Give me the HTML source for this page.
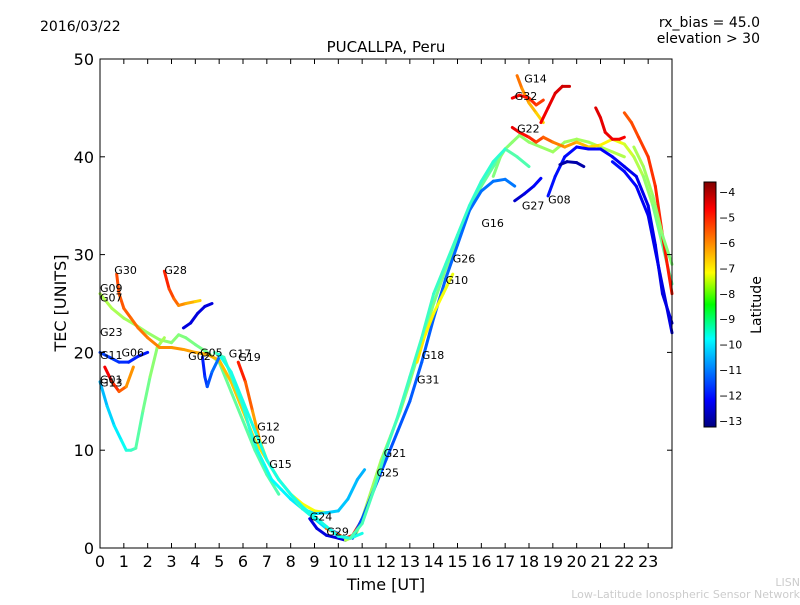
<!DOCTYPE html>
<html><head><meta charset="utf-8"><style>
body{margin:0;background:#fff;}
svg{font-family:"DejaVu Sans","Liberation Sans",sans-serif;}
</style></head><body>
<svg id="chart" width="800" height="600" viewBox="0 0 800 600">
<defs><linearGradient id="jet" x1="0" y1="1" x2="0" y2="0">
<stop offset="0" stop-color="#00007f"/><stop offset="0.11" stop-color="#0000ff"/><stop offset="0.36" stop-color="#00ffff"/>
<stop offset="0.5" stop-color="#00ff00" /><stop offset="0.63" stop-color="#ffff00"/><stop offset="0.89" stop-color="#ff0000"/><stop offset="1" stop-color="#7f0000"/></linearGradient></defs>
<text x="40" y="31" font-size="14">2016/03/22</text>
<text x="760" y="27" font-size="14" text-anchor="end">rx_bias = 45.0</text>
<text x="760" y="43" font-size="14" text-anchor="end">elevation &gt; 30</text>
<text x="386" y="52" font-size="15" text-anchor="middle">PUCALLPA, Peru</text>
<g id="marks"></g>
<g id="axes"></g>
<text x="386" y="590" font-size="16" text-anchor="middle">Time [UT]</text>
<text x="0" y="0" font-size="16" text-anchor="middle" transform="translate(66,303) rotate(-90)">TEC [UNITS]</text>
<rect x="704" y="182" width="12" height="245" fill="url(#jet)" stroke="#000"/>
<text x="0" y="0" font-size="14" text-anchor="middle" transform="translate(761,305) rotate(-90)">Latitude</text>
<text x="800" y="586" font-size="11" fill="#ccc" text-anchor="end">LISN</text>
<text x="800" y="598" font-size="11" fill="#ccc" text-anchor="end">Low-Latitude Ionospheric Sensor Network</text>
</svg>
<script>
const xTicks=[0,1,2,3,4,5,6,7,8,9,10,11,12,13,14,15,16,17,18,19,20,21,22,23];
const yTicks=[0,10,20,30,40,50];
const cbTicks=[-4,-5,-6,-7,-8,-9,-10,-11,-12,-13];
const trackTimes=[
[0,0.5,1,1.5,2,2.5,3,3.3,3.6,4,4.5,5,5.5,6,6.5,7,7.5],
[0,0.3,0.6,0.9,1.1,1.3,1.5,1.8,2.1,2.4,2.7],
[0.7,0.8,1,1.3,1.6,2,2.5,3,3.5,4,4.5,5,5.5,6,6.5,7,7.5,8,8.5,9,9.5],
[2.7,2.9,3.1,3.3,3.6,4,4.2],
[3.5,3.8,4.1,4.4,4.7],
[4.3,4.4,4.5,4.7,5],
[0,0.4,0.8,1.2,1.6,2],
[0.2,0.5,0.8,1.1,1.4],
[4.8,5.2,5.6,6,6.3,6.6,6.9,7.2,7.6,8,8.5,9,9.5,10,10.4,10.8,11.1],
[5.8,6.1,6.4,6.7,7,7.5,8,8.5,9,9.5,10],
[8.8,9.1,9.5,10,10.3],
[9.5,9.9,10.3,10.6,10.9,11.1],
[10.3,10.7,11,11.4,11.8,12.2,12.6,13,13.5,14,14.5,15,15.5,16,16.5,17,17.5,18],
[10.6,11,11.5,12,12.5,13,13.5,14,14.5,15,15.5,16,16.5,17,17.4],
[13.3,13.6,14,14.4,14.8],
[16.5,16.8,17,17.3,17.6,18,18.5,19,19.5,20,20.5,21,21.5,22],
[17.5,17.7,18,18.3,18.6],
[17.3,17.6,18,18.3,18.6],
[17.3,17.6,18,18.3,18.6,19,19.5,20,20.5,21,21.5,22,22.4,22.8,23.2,23.6,24],
[18.5,18.8,19.1,19.4,19.7],
[17.4,17.8,18.2,18.5],
[18.8,19.1,19.5,20,20.5,21,21.5,22,22.5,23,23.3,23.6,24],
[20.8,21,21.2,21.5,21.8,22],
[22,22.3,22.6,23,23.3,23.6,24],
[21.5,22,22.5,23,23.5,24],
[19.3,19.6,20,20.3],
[5,5.5,6,6.5,7,7.5,8,8.5,9,9.5,10,10.5,11],
[10.5,11,11.5,12,12.5,13,13.5,14,14.5,15,15.5,16,16.5,17],
[22.4,22.8,23.2,23.6,24]
];
const trackTEC=[
[26,24.5,23.5,22.8,22,21.3,21,21.8,21.5,20.8,20,19,16,13,10,7.5,5.5],
[17,14.5,12.5,11,10,10,10.2,14,17.5,20.5,21.5],
[28,26,24.5,23.5,22.5,21.5,20.5,20.5,20.3,20,19.8,19.2,17,14,11,9,7,5.5,4.5,3.8,3.6],
[28.3,26.5,25.5,24.8,25,25.2,25.3],
[22.5,23,24,24.7,25],
[19.5,17.5,16.5,18,19.5],
[20,19.5,19,19,19.6,20],
[18.5,17,16,16.5,18.5],
[20,19.5,17,14.5,12,10,8.5,7,6,5,4,3.5,3.6,3.8,5,7,8],
[19,17,14,11,9,7,5.5,4,3,2,1.5],
[3,2,1.3,1,0.8],
[2,1.5,1,1.3,2.5,3.5],
[0.8,1.2,3,6,9,11.5,14,17,21,25,28.5,31.5,34.5,37,39,40.8,40,39],
[1,3,6,9,12,15,19,23.5,27.5,31,34.5,36.5,37.5,37.7,37],
[19,21.5,24,26,28],
[38,40,40.8,41.5,42.2,41.5,41,40.5,41.5,41.8,41.5,41,40.5,40],
[48.3,47,45.5,44.5,43.5],
[46,46.3,46,45.3,45.8],
[43,42.5,42,41.5,42,41.5,41,41.5,41,41.2,41.8,41.3,40,38,35,31,27],
[43.5,45,46.5,47.2,47.2],
[35.5,36.2,37,37.8],
[36,38,40,41,40.8,40.8,40,39,38,35,31,26,23],
[45,44,42.5,41.8,41.8,42],
[44.5,43.5,42,40,37,32,26],
[39.5,38.5,37,34,28,22],
[39.2,39.5,39.4,39],
[19.8,18,15,12,9,7,5.5,4.2,3.2,2.2,1.2,1,1.5],
[1,2.5,6,10,13.5,17.5,21.5,26,29,32,35,37.5,39.5,40.8],
[41,39,36,32,29]
];
const trackLat=[
[-8,-9],[-10.5,-8],[-5.5,-7.5],[-5,-7],[-12.5,-12.5],[-12,-11],[-11.5,-12],[-4.5,-6.5],[-9,-10.5],[-4.8,-11],
[-12.5,-12.5],[-6,-4.5],[-8,-9],[-11.5,-11],[-7,-7.5],[-8.5,-8],[-5.8,-7],[-4.7,-5.5],[-4.5,-9],[-4.8,-4.3],[-12.8,-12],[-12,-12.5],[-4.5,-4.8],[-5.7,-5],[-12,-12.5],[-13,-13],
[-9.5,-9.5],[-9,-9.3],[-8,-8.5]
];
const labelNames=["G30","G09","G07","G23","G11","G06","G01","G13","G28","G02","G05","G17","G19","G12","G20","G15","G24","G29","G21","G25","G31","G18","G10","G26","G16","G27","G08","G22","G32","G14"];
const labelTimes=[0.6,0,0,0,0,0.9,0,0,2.7,3.7,4.2,5.4,5.8,6.6,6.4,7.1,8.8,9.5,11.9,11.6,13.3,13.5,14.5,14.8,16,17.7,18.8,17.5,17.4,17.8];
const labelTEC=[28,26.2,25.2,21.7,19.3,19.6,16.8,16.5,28,19.2,19.6,19.5,19.1,12,10.7,8.2,2.8,1.3,9.3,7.3,16.8,19.3,27,29.2,32.8,34.6,35.2,42.5,45.8,47.6];
const NS="http://www.w3.org/2000/svg";
const X0=100,X1=672,Y0=548,Y1=59;
const xs=t=>X0+(t/24)*(X1-X0);
const ys=v=>Y0-(v/50)*(Y0-Y1);
const cbY=l=>192+(-4-l)*(421-192)/9;
function jet(l){let f=(l+13.4)/9.8;f=Math.max(0,Math.min(1,f));
 const c=x=>Math.round(255*Math.max(0,Math.min(1,1.5-Math.abs(4*f-x))));
 return `rgb(${c(3)},${c(2)},${c(1)})`;}
const marks=document.getElementById('marks'),axes=document.getElementById('axes');
function mk(tag,attrs,parent){const e=document.createElementNS(NS,tag);for(const k in attrs)e.setAttribute(k,attrs[k]);parent.appendChild(e);return e;}
trackTimes.forEach((ts,i)=>{
 const g=mk('g',{},marks);
 
 
 const vs=trackTEC[i],la=trackLat[i];
 for(let j=0;j<ts.length-1;j++){
  const f=(j+0.5)/(ts.length-1);
  const l=la[0]+(la[1]-la[0])*f;
  mk('line',{x1:xs(ts[j]),y1:ys(vs[j]),x2:xs(ts[j+1]),y2:ys(vs[j+1]),stroke:jet(l),'stroke-width':3,'stroke-linecap':'round'},g);
 }
});
labelNames.forEach((n,i)=>{
 const t=mk('text',{x:xs(labelTimes[i]),y:ys(labelTEC[i]),'font-size':11},marks);
 
 
 t.textContent=n;
});
const frame=mk('rect',{x:X0,y:Y1,width:X1-X0,height:Y0-Y1,fill:'none',stroke:'#000'},axes);


xTicks.forEach(t=>{
 mk('line',{x1:xs(t),x2:xs(t),y1:Y0,y2:Y0-5,stroke:'#000'},axes);
 mk('line',{x1:xs(t),x2:xs(t),y1:Y1,y2:Y1+5,stroke:'#000'},axes);
 const tx=mk('text',{x:xs(t),y:Y0+19,'font-size':16,'text-anchor':'middle'},axes);
 
 
 tx.textContent=t;
});
yTicks.forEach(v=>{
 mk('line',{x1:X0,x2:X0+5,y1:ys(v),y2:ys(v),stroke:'#000'},axes);
 mk('line',{x1:X1,x2:X1-5,y1:ys(v),y2:ys(v),stroke:'#000'},axes);
 const tx=mk('text',{x:X0-6,y:ys(v)+6,'font-size':16,'text-anchor':'end'},axes);
 
 
 tx.textContent=v;
});
cbTicks.forEach(l=>{
 mk('line',{x1:704,x2:708,y1:cbY(l),y2:cbY(l),stroke:'#000'},axes);
 mk('line',{x1:716,x2:712,y1:cbY(l),y2:cbY(l),stroke:'#000'},axes);
 const tx=mk('text',{x:719,y:cbY(l)+4,'font-size':11},axes);
 
 
 tx.textContent='\u2212'+Math.abs(l);
});
</script>
</body></html>
